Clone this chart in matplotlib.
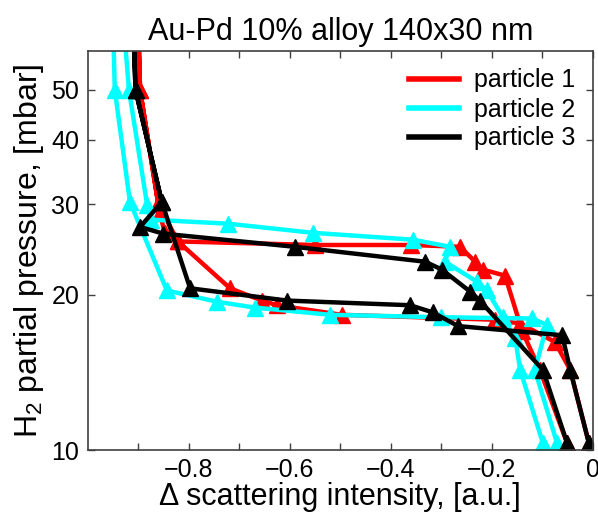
import matplotlib
matplotlib.use("Agg")
import matplotlib.pyplot as plt
from matplotlib.ticker import FixedLocator, NullLocator, FixedFormatter
from matplotlib.lines import Line2D

plt.rcParams['font.family'] = ['Liberation Sans', 'DejaVu Sans']
plt.rcParams['mathtext.fontset'] = 'custom'
plt.rcParams['mathtext.rm'] = 'Liberation Sans'
plt.rcParams['mathtext.it'] = 'Liberation Sans'
plt.rcParams['mathtext.default'] = 'regular'

title = "Au-Pd 10% alloy 140x30 nm"
xlabel = "Δ scattering intensity, [a.u.]"
ylabel = "H$_2$ partial pressure, [mbar]"
labels = ["particle 1", "particle 2", "particle 3"]
colors = ["#ff0000", "#00ffff", "#000000"]

# particle 1 (red): absorption (rising pressure) then desorption
p1_x = [-0.051, -0.105, -0.14, -0.174, -0.218, -0.233, -0.263, -0.36, -0.55, -0.82, -0.847, -0.857, -0.896, -0.90,
        -0.896, -0.86, -0.821, -0.718, -0.655, -0.625, -0.497, -0.194, -0.144, -0.075, -0.045, -0.008]
p1_p = [10.3, 14.3, 17.0, 21.8, 22.4, 23.2, 24.8, 25.0, 25.0, 25.4, 26.4, 28.8, 50.0, 70.0,
        50.0, 30.0, 25.4, 20.6, 19.5, 19.1, 18.3, 17.9, 17.6, 16.2, 14.3, 10.3]

# particle 2 (cyan)
p2_x = [-0.099, -0.144, -0.154, -0.178, -0.21, -0.229, -0.293, -0.283, -0.356, -0.554, -0.722, -0.875, -0.882, -0.918, -0.93,
        -0.95, -0.946, -0.916, -0.843, -0.744, -0.669, -0.52, -0.30, -0.121, -0.091, -0.115, -0.071]
p2_p = [10.3, 14.3, 16.5, 18.1, 20.4, 21.2, 23.2, 24.8, 25.6, 26.4, 27.5, 28.0, 29.9, 50.0, 70.0,
        70.0, 50.0, 30.3, 20.4, 19.4, 18.9, 18.3, 18.1, 18.0, 17.5, 14.3, 10.3]

# particle 3 (black)
p3_x = [-0.051, -0.099, -0.224, -0.243, -0.299, -0.332, -0.59, -0.85, -0.896, -0.853, -0.905, -0.91,
        -0.905, -0.853, -0.797, -0.605, -0.362, -0.317, -0.267, -0.061, -0.045, -0.008]
p3_p = [10.3, 14.3, 19.5, 20.3, 22.4, 23.2, 24.8, 26.3, 27.1, 30.3, 50.0, 70.0,
        50.0, 30.3, 20.6, 19.5, 19.1, 18.5, 17.4, 16.7, 14.3, 10.3]

xticks = [-0.8, -0.6, -0.4, -0.2, 0]
xticklabels = ["\u22120.8", "\u22120.6", "\u22120.4", "\u22120.2", "0"]
xminor = [-0.9, -0.7, -0.5, -0.3, -0.1]
yticks = [10, 20, 30, 40, 50]

fig = plt.figure(figsize=(5.98, 5.15), dpi=100)
ax = fig.add_axes([87.5/598, 1 - 450/515, (593 - 87.5)/598, (450 - 51)/515])

series = [(p1_x, p1_p), (p2_x, p2_p), (p3_x, p3_p)]
for (xs, ps), c, lab in zip(series, colors, labels):
    ax.plot(xs, ps, color=c, lw=3.2, marker='^', markersize=11, label=lab,
            solid_joinstyle='miter')

ax.set_yscale('log')
ax.set_xlim(-1.0, 0.0)
ax.set_ylim(10, 59.5)
ax.xaxis.set_major_locator(FixedLocator(xticks))
ax.xaxis.set_major_formatter(FixedFormatter(xticklabels))
ax.xaxis.set_minor_locator(FixedLocator(xminor))
ax.yaxis.set_major_locator(FixedLocator(yticks))
ax.yaxis.set_major_formatter(FixedFormatter([str(v) for v in yticks]))
ax.yaxis.set_minor_locator(NullLocator())
ax.tick_params(which='both', direction='in', top=True, right=True, length=5,
               width=1, colors='0.25', labelcolor='black', labelsize=18, pad=6)
for s in ax.spines.values():
    s.set_color('0.25')
    s.set_linewidth(1.2)

ax.set_title(title, fontsize=22, pad=8)
ax.set_xlabel(xlabel, fontsize=22, labelpad=0)
ax.set_ylabel(ylabel, fontsize=23, labelpad=4)

handles = [Line2D([], [], color=c, lw=4) for c in colors]
ax.legend(handles, labels, loc='upper right', frameon=False, fontsize=18,
          handlelength=2.0, handletextpad=0.6, labelspacing=0.2,
          borderaxespad=0.3, bbox_to_anchor=(1.0, 1.0))

fig.savefig("out.png", dpi=100)
